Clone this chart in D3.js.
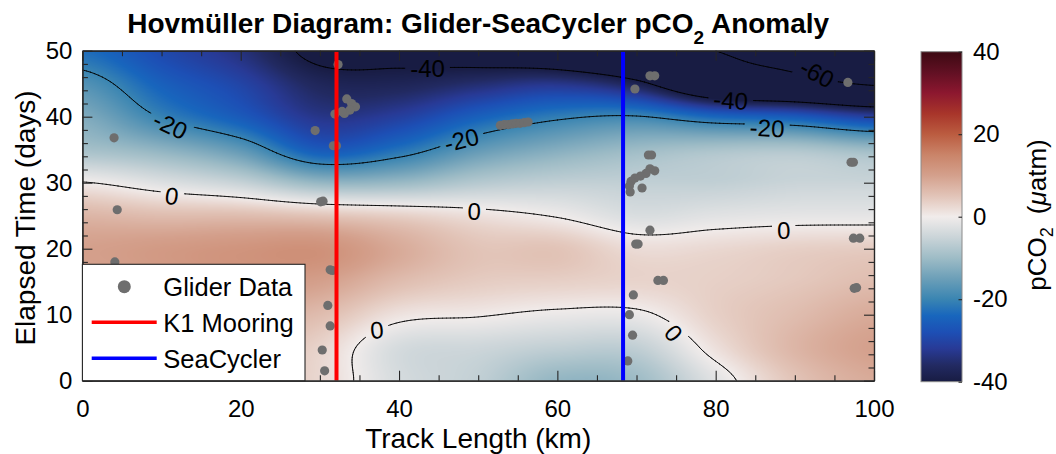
<!DOCTYPE html>
<html>
<head>
<meta charset="utf-8">
<script src="https://cdn.jsdelivr.net/npm/d3@7/dist/d3.min.js"></script>
<style>
  body { margin: 0; background: #fff; }
  svg text { font-family: "Liberation Sans", Arial, Helvetica, sans-serif; fill: #000; }
</style>
</head>
<body>
<svg id="chart" width="1056" height="454"></svg>
<script>
// ---- data ----
const trackKm = [0, 10, 20, 30, 40, 50, 60, 70, 80, 90, 100];
const elapsedDays = [0, 5, 10, 15, 20, 25, 30, 35, 40, 45, 50];
// pCO2 anomaly (uatm), one row per elapsedDays entry, one column per trackKm entry
const anomDay0  = [5, 5, 5, 2.5, -3.5, -6, -11, -10, -2, 5, 8.5];
const anomDay5  = [6, 6, 6, 3, -3.5, -4.5, -6, -6, 1.5, 7, 10];
const anomDay10 = [8, 8, 8, 6, 1.2, 0.3, -0.8, -0.8, 3.5, 6, 8.5];
const anomDay15 = [9, 10, 11, 10, 6, 4, 3.5, 3, 3.5, 4.5, 6];
const anomDay20 = [10, 11, 12, 12.5, 8.5, 5, 5, 2, 2.5, 3.5, 4];
const anomDay25 = [7, 6, 6, 5, 3.5, 1.5, -0.3, -3, -2, -1.5, -1.5];
const anomDay30 = [0.2, -2.5, -5.4, -10.8, -10.4, -7.3, -6, -6, -6, -5, -5];
const anomDay35 = [-9, -11.5, -16.3, -26, -22.5, -16, -12.5, -10, -8.5, -8, -10];
const anomDay40 = [-13, -20.3, -26, -33, -31, -25, -21, -19.7, -24, -26, -31];
const anomDay45 = [-17.5, -25, -30, -37, -37.5, -35, -33, -38, -52, -56, -61];
const anomDay50 = [-23, -29, -34, -42, -42, -44, -48, -55, -60, -62, -66];
const anomaly = [anomDay0, anomDay5, anomDay10, anomDay15, anomDay20, anomDay25,
                 anomDay30, anomDay35, anomDay40, anomDay45, anomDay50];

const gliderKm = [32.3, 33.4, 34.0, 34.5, 33.8, 33.1, 31.9, 32.8, 29.4, 31.7, 32.1, 30.1, 30.4,
                  4.0, 4.4, 4.1, 31.3, 31.6, 31.0, 31.3, 30.3, 30.6,
                  71.7, 72.3, 69.8, 52.8, 53.3, 53.8, 54.3, 54.8, 55.3, 55.8, 56.3, 96.7,
                  71.5, 71.9, 72.3, 71.7, 71.2, 70.5, 69.8, 69.3, 69.1, 69.2, 70.7, 97.1, 97.4,
                  71.7, 69.9, 70.2, 72.7, 73.4, 69.6, 69.1, 69.5, 68.9, 97.4, 98.2, 97.5, 97.8];
const gliderDay = [47.9, 42.7, 42.0, 41.5, 41.0, 40.5, 40.4, 40.8, 37.9, 35.6, 35.6, 27.1, 27.2,
                   36.8, 25.9, 18.0, 16.8, 16.7, 11.4, 8.3, 4.65, 1.5,
                   46.2, 46.2, 44.2, 38.7, 38.8, 38.8, 38.9, 39.0, 39.0, 39.1, 39.2, 45.2,
                   34.2, 34.2, 31.8, 32.1, 31.4, 31.0, 30.7, 30.2, 29.5, 28.6, 29.2, 33.1, 33.1,
                   22.8, 20.7, 20.7, 15.2, 15.2, 13.0, 10.0, 6.9, 3.0, 21.6, 21.6, 14.0, 14.1];

const k1MooringKm = 32.1;
const seaCyclerKm = 68.3;

const contourLevels = [-60, -40, -20, 0];
const xTicks = [0, 20, 40, 60, 80, 100];
const yTicks = [0, 10, 20, 30, 40, 50];
const cbTicks = [-40, -20, 0, 20, 40];

// clabel positions (km, day) and text angle
const labelKm    = [11.1, 43.6, 47.9, 11.3, 49.5, 92.8, 81.9, 86.5, 88.6, 74.7, 37.2];
const labelDay   = [38.7, 47.3, 36.5, 28.0, 25.7, 46.6, 42.5, 38.3, 22.8, 7.2, 7.7];
const labelLevel = [-20, -40, -20, 0, 0, -60, -40, -20, 0, 0, 0];
const labelAngle = [25, 0, -14, 8, 2, 28, 4, 3, -1, 50, -5];

// colormap (cmocean balance-like)
const cmapVals = [-40, -36, -32, -28, -24, -20, -15, -10, -5, 0, 5, 10, 15, 20, 25, 30, 35, 40];
const cmapCols = ["#181c43", "#222a62", "#283a96", "#1d4fb5", "#1866bd", "#3a85b2", "#6c9fb8",
                  "#9ebcc6", "#cad4d8", "#f1eceb", "#e2c4b8", "#d4a08c", "#ca8469", "#bb5c40",
                  "#a8352a", "#8c172f", "#611023", "#3c0912"];

// ---- layout ----
const svg = d3.select("#chart");
const axisCol = "#262626";
const x = d3.scaleLinear([0, 100], [82.4, 874]);
const y = d3.scaleLinear([0, 50], [380.7, 50.7]);
const color = d3.scaleLinear(cmapVals, cmapCols).clamp(true);
const cb = d3.scaleLinear([-40, 40], [381.7, 51.7]);

// bicubic (Catmull-Rom) lookup of the gridded anomaly
function cr(p0, p1, p2, p3, t) {
  return 0.5 * (2 * p1 + (-p0 + p2) * t + (2 * p0 - 5 * p1 + 4 * p2 - p3) * t * t +
    (-p0 + 3 * p1 - 3 * p2 + p3) * t * t * t);
}
const nC = trackKm.length, nR = elapsedDays.length;
const dKm = trackKm[1] - trackKm[0], dDay = elapsedDays[1] - elapsedDays[0];
function fieldAt(km, day) {
  const fx = Math.max(0, Math.min(nC - 1, (km - trackKm[0]) / dKm));
  const fy = Math.max(0, Math.min(nR - 1, (day - elapsedDays[0]) / dDay));
  const i = Math.min(Math.floor(fx), nC - 2), j = Math.min(Math.floor(fy), nR - 2);
  const tx = fx - i, ty = fy - j;
  const ci = k => Math.max(0, Math.min(nC - 1, k));
  const rj = k => Math.max(0, Math.min(nR - 1, k));
  const v = [];
  for (let m = -1; m <= 2; m++) {
    const r = anomaly[rj(j + m)];
    v.push(cr(r[ci(i - 1)], r[ci(i)], r[ci(i + 1)], r[ci(i + 2)], tx));
  }
  return cr(v[0], v[1], v[2], v[3], ty);
}

// clip for plot area
const defs = svg.append("defs");
defs.append("clipPath").attr("id", "plotClip").append("rect")
  .attr("x", x(0)).attr("y", y(50)).attr("width", x(100) - x(0)).attr("height", y(0) - y(50));

// ---- field raster ----
const W = Math.round(x(100) - x(0)), H = Math.round(y(0) - y(50));
const canvas = document.createElement("canvas");
canvas.width = W; canvas.height = H;
const ctx = canvas.getContext("2d");
const img = ctx.createImageData(W, H);
const lut = d3.range(-400, 401).map(v => d3.rgb(color(v / 10)));
for (let py = 0; py < H; py++) {
  const day = y.invert(y(50) + py + 0.5);
  for (let px = 0; px < W; px++) {
    const km = x.invert(x(0) + px + 0.5);
    const val = Math.max(-40, Math.min(40, fieldAt(km, day)));
    const c = lut[Math.round(val * 10) + 400];
    const o = (py * W + px) * 4;
    img.data[o] = c.r; img.data[o + 1] = c.g; img.data[o + 2] = c.b; img.data[o + 3] = 255;
  }
}
ctx.putImageData(img, 0, 0);
svg.append("image")
  .attr("x", x(0)).attr("y", y(50)).attr("width", W).attr("height", H)
  .attr("preserveAspectRatio", "none")
  .attr("href", canvas.toDataURL());

// ---- contours (marching squares on a fine grid) ----
const nx = 201, ny = 201;
const gx = d3.range(nx).map(i => i * 100 / (nx - 1));
const gy = d3.range(ny).map(j => j * 50 / (ny - 1));
const grid = new Float64Array(nx * ny);
for (let j = 0; j < ny; j++) for (let i = 0; i < nx; i++) grid[j * nx + i] = fieldAt(gx[i], gy[j]);

function contourPath(level) {
  let d = "";
  const P = (gi, gj) => {
    const km = gi * 100 / (nx - 1), day = gj * 50 / (ny - 1);
    return x(km).toFixed(2) + "," + y(day).toFixed(2);
  };
  for (let j = 0; j < ny - 1; j++) {
    for (let i = 0; i < nx - 1; i++) {
      const v00 = grid[j * nx + i], v10 = grid[j * nx + i + 1];
      const v01 = grid[(j + 1) * nx + i], v11 = grid[(j + 1) * nx + i + 1];
      const pts = [];
      const edge = (va, vb, xa, ya, xb, yb) => {
        if ((va >= level) !== (vb >= level)) {
          const t = (level - va) / (vb - va);
          pts.push([xa + (xb - xa) * t, ya + (yb - ya) * t]);
        }
      };
      edge(v00, v10, i, j, i + 1, j);
      edge(v10, v11, i + 1, j, i + 1, j + 1);
      edge(v11, v01, i + 1, j + 1, i, j + 1);
      edge(v01, v00, i, j + 1, i, j);
      for (let k = 0; k + 1 < pts.length; k += 2) {
        d += "M" + P(pts[k][0], pts[k][1]) + "L" + P(pts[k + 1][0], pts[k + 1][1]);
      }
    }
  }
  return d;
}

// mask that opens gaps in the lines where labels sit
const mask = defs.append("mask").attr("id", "labelMask")
  .attr("maskUnits", "userSpaceOnUse").attr("x", 0).attr("y", 0).attr("width", 1056).attr("height", 454);
mask.append("rect").attr("x", 0).attr("y", 0).attr("width", 1056).attr("height", 454).attr("fill", "#fff");

const plotG = svg.append("g").attr("clip-path", "url(#plotClip)");
const lineG = plotG.append("g").attr("mask", "url(#labelMask)");
lineG.selectAll("path.contour")
  .data(contourLevels)
  .join("path")
  .attr("class", "contour")
  .attr("d", d => contourPath(d))
  .attr("fill", "none")
  .attr("stroke", "#000")
  .attr("stroke-width", 0.9)
  .attr("stroke-linecap", "round");

const labelG = plotG.append("g");
labelKm.forEach((km, k) => {
  const tx = x(km), ty = y(labelDay[k]);
  const t = labelG.append("text")
    .attr("transform", `translate(${tx},${ty}) rotate(${labelAngle[k]})`)
    .attr("text-anchor", "middle")
    .attr("dy", "0.36em")
    .attr("font-size", 24)
    .text(labelLevel[k]);
  const w = t.node().getComputedTextLength() + 10;
  mask.append("rect")
    .attr("transform", `translate(${tx},${ty}) rotate(${labelAngle[k]})`)
    .attr("x", -w / 2).attr("y", -12).attr("width", w).attr("height", 24)
    .attr("fill", "#000");
});

// glider dots
plotG.append("g").selectAll("circle")
  .data(d3.range(gliderKm.length))
  .join("circle")
  .attr("cx", i => x(gliderKm[i]))
  .attr("cy", i => y(gliderDay[i]))
  .attr("r", 4.6)
  .attr("fill", "#6e6e6e");

// K1 mooring and SeaCycler lines
plotG.append("line")
  .attr("x1", x(k1MooringKm)).attr("x2", x(k1MooringKm)).attr("y1", y(0)).attr("y2", y(50))
  .attr("stroke", "#ff0000").attr("stroke-width", 4);
plotG.append("line")
  .attr("x1", x(seaCyclerKm)).attr("x2", x(seaCyclerKm)).attr("y1", y(0)).attr("y2", y(50))
  .attr("stroke", "#0000ff").attr("stroke-width", 4);

// ---- axes (inward ticks on all four sides) ----
function styleAxis(g) {
  g.selectAll("path.domain").attr("stroke", axisCol).attr("stroke-width", 1.2);
  g.selectAll(".tick line").attr("stroke", axisCol).attr("stroke-width", 1.1);
  g.selectAll(".tick text").attr("font-size", 24).attr("fill", "#000")
    .attr("font-family", '"Liberation Sans", Arial, Helvetica, sans-serif');
}
const plain = d => String(d);
const xMinor = d3.range(0, 101, 5).filter(v => v % 20 !== 0);
const yMinor = d3.range(0, 51, 2).filter(v => v % 10 !== 0);

svg.append("g").attr("transform", `translate(0,${y(0)})`)
  .call(d3.axisBottom(x).tickValues(xTicks).tickSize(-10).tickSizeOuter(0).tickPadding(19).tickFormat(plain))
  .call(styleAxis);
svg.append("g").attr("transform", `translate(0,${y(0)})`)
  .call(d3.axisBottom(x).tickValues(xMinor).tickSize(-5.5).tickSizeOuter(0).tickFormat(""))
  .call(styleAxis);
svg.append("g").attr("transform", `translate(0,${y(50)})`)
  .call(d3.axisTop(x).tickValues(xTicks).tickSize(-10).tickSizeOuter(0).tickFormat(""))
  .call(styleAxis);
svg.append("g").attr("transform", `translate(0,${y(50)})`)
  .call(d3.axisTop(x).tickValues(xMinor).tickSize(-5.5).tickSizeOuter(0).tickFormat(""))
  .call(styleAxis);
svg.append("g").attr("transform", `translate(${x(0)},0)`)
  .call(d3.axisLeft(y).tickValues(yTicks).tickSize(-10).tickSizeOuter(0).tickPadding(10).tickFormat(plain))
  .call(styleAxis);
svg.append("g").attr("transform", `translate(${x(0)},0)`)
  .call(d3.axisLeft(y).tickValues(yMinor).tickSize(-5.5).tickSizeOuter(0).tickFormat(""))
  .call(styleAxis);
svg.append("g").attr("transform", `translate(${x(100)},0)`)
  .call(d3.axisRight(y).tickValues(yTicks).tickSize(-10).tickSizeOuter(0).tickFormat(""))
  .call(styleAxis);
svg.append("g").attr("transform", `translate(${x(100)},0)`)
  .call(d3.axisRight(y).tickValues(yMinor).tickSize(-5.5).tickSizeOuter(0).tickFormat(""))
  .call(styleAxis);

// axis titles
svg.append("text")
  .attr("x", (x(0) + x(100)) / 2).attr("y", 448)
  .attr("text-anchor", "middle").attr("font-size", 28)
  .text("Track Length (km)");
svg.append("text")
  .attr("transform", "translate(35,218) rotate(-90)")
  .attr("text-anchor", "middle").attr("font-size", 28)
  .text("Elapsed Time (days)");

// title
const title = svg.append("text")
  .attr("x", (x(0) + x(100)) / 2).attr("y", 33)
  .attr("text-anchor", "middle").attr("font-size", 28).attr("font-weight", "bold");
title.append("tspan").text("Hovmüller Diagram: Glider-SeaCycler pCO");
title.append("tspan").attr("font-size", 19).attr("dy", 11).text("2");
title.append("tspan").attr("dy", -11).text(" Anomaly");

// ---- legend ----
const leg = svg.append("g");
leg.append("rect")
  .attr("x", x(0)).attr("y", 264.3).attr("width", 305 - x(0)).attr("height", y(0) - 264.3)
  .attr("fill", "#fff").attr("stroke", axisCol).attr("stroke-width", 1.1);
leg.append("circle").attr("cx", 124.3).attr("cy", 286.7).attr("r", 6.5).attr("fill", "#6e6e6e");
leg.append("line").attr("x1", 91.7).attr("x2", 156.7).attr("y1", 322.3).attr("y2", 322.3)
  .attr("stroke", "#ff0000").attr("stroke-width", 3.5);
leg.append("line").attr("x1", 91.7).attr("x2", 156.7).attr("y1", 358.3).attr("y2", 358.3)
  .attr("stroke", "#0000ff").attr("stroke-width", 3.5);
const legendNames = ["Glider Data", "K1 Mooring", "SeaCycler"];
leg.selectAll("text.lbl").data(legendNames).join("text")
  .attr("class", "lbl")
  .attr("x", 163.3)
  .attr("y", (d, i) => [296, 331.5, 367.5][i])
  .attr("font-size", 25.5)
  .text(d => d);

// ---- colorbar ----
const grad = defs.append("linearGradient").attr("id", "cbGrad")
  .attr("x1", 0).attr("y1", 1).attr("x2", 0).attr("y2", 0);
grad.selectAll("stop").data(cmapVals).join("stop")
  .attr("offset", d => (d + 40) / 80)
  .attr("stop-color", d => color(d));
svg.append("rect")
  .attr("x", 921).attr("y", cb(40)).attr("width", 41).attr("height", cb(-40) - cb(40))
  .attr("fill", "url(#cbGrad)").attr("stroke", "#8a8a8a").attr("stroke-width", 1);
const cbAxis = svg.append("g").attr("transform", "translate(962,0)")
  .call(d3.axisRight(cb).tickValues(cbTicks).tickSize(-3.5).tickSizeOuter(0).tickPadding(11).tickFormat(plain))
  .call(styleAxis);
cbAxis.select("path.domain").remove();

const cbl = svg.append("text")
  .attr("transform", "translate(1046,215) rotate(-90)")
  .attr("text-anchor", "middle").attr("font-size", 26);
cbl.append("tspan").text("pCO");
cbl.append("tspan").attr("font-size", 18).attr("dy", 7).text("2");
cbl.append("tspan").attr("dy", -7).text("\u2002(");
cbl.append("tspan").attr("font-style", "italic").text("\u03bc");
cbl.append("tspan").text("atm)");
</script>
</body>
</html>
